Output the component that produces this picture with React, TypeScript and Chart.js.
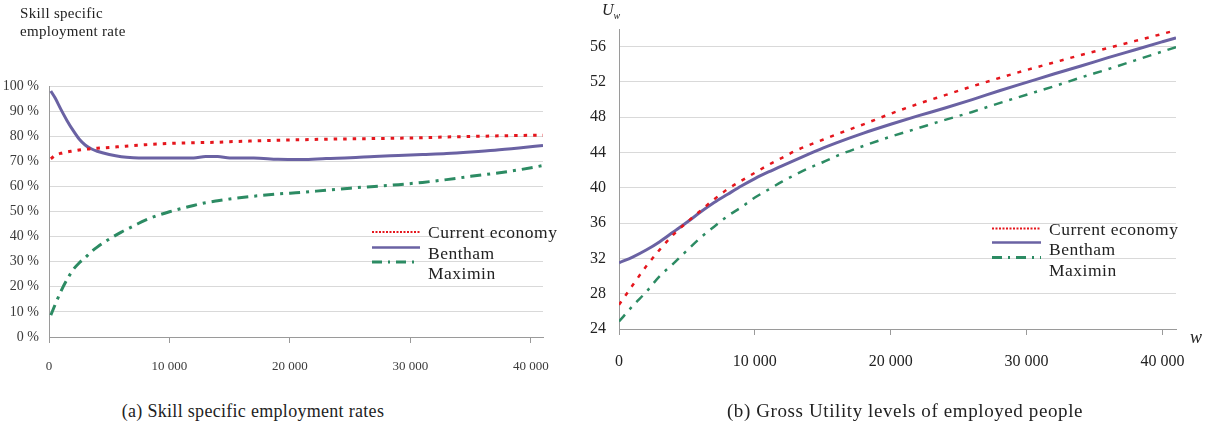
import { useEffect, useRef } from "react";
import { Chart, registerables } from "chart.js";

Chart.register(...registerables);

const seriesNames = ["Current economy", "Bentham", "Maximin"];

// Panel (a): skill specific employment rates (%)
const wageA = [150, 500, 1000, 1500, 2000, 2500, 3000, 3500, 4000, 5000, 6000, 7000, 8000, 10000, 12000, 13000, 14000, 15000, 17000, 19000, 21000, 23000, 25000, 27000, 29000, 31000, 33000, 35000, 37000, 39000, 41000];
const currentA = [71, 72.3, 73.2, 73.7, 74.1, 74.5, 74.8, 75.0, 75.2, 75.5, 75.9, 76.3, 76.6, 77.1, 77.4, 77.5, 77.6, 77.8, 78.1, 78.4, 78.6, 78.8, 78.95, 79.05, 79.2, 79.4, 79.7, 79.9, 80.1, 80.3, 80.4];
const benthamA = [98, 95.3, 90.6, 86.2, 82.3, 78.9, 76.5, 75.0, 74.0, 72.7, 71.8, 71.4, 71.3, 71.3, 71.3, 71.9, 71.9, 71.3, 71.3, 70.8, 70.7, 71.1, 71.4, 71.9, 72.3, 72.7, 73.1, 73.7, 74.4, 75.3, 76.3];
const maximinA = [8.7, 12.8, 18.3, 22.9, 26.8, 29.5, 31.6, 33.9, 35.8, 39.0, 41.8, 44.2, 46.6, 49.9, 52.4, 53.5, 54.3, 55.0, 56.1, 57.0, 57.6, 58.5, 59.3, 60.0, 60.7, 61.6, 62.7, 64.0, 65.2, 66.6, 68.3];

// Panel (b): gross utility levels of employed people
const wageB = [0, 1000, 2000, 3000, 4000, 5000, 6000, 7000, 8000, 9000, 10000, 11000, 12000, 13000, 14000, 15000, 16000, 18000, 20000, 22000, 24000, 26000, 28000, 30000, 32000, 34000, 36000, 38000, 40000, 41000];
const currentB = [26.75, 28.95, 31.1, 33.0, 34.7, 36.1, 37.4, 38.7, 39.85, 40.8, 41.7, 42.6, 43.4, 44.2, 44.85, 45.45, 46.05, 47.2, 48.4, 49.5, 50.5, 51.5, 52.45, 53.35, 54.2, 55.05, 55.85, 56.65, 57.45, 57.85];
const benthamB = [31.5, 32.15, 32.95, 33.9, 35.0, 36.1, 37.25, 38.33, 39.27, 40.2, 41.05, 41.8, 42.5, 43.17, 43.85, 44.5, 45.1, 46.2, 47.2, 48.15, 49.05, 50.0, 51.0, 51.95, 52.9, 53.8, 54.75, 55.65, 56.55, 57.0];
const maximinB = [24.85, 26.6, 28.2, 30.0, 31.4, 32.9, 34.35, 35.6, 36.8, 37.8, 38.9, 39.8, 40.7, 41.5, 42.25, 42.9, 43.6, 44.75, 45.8, 46.75, 47.7, 48.6, 49.6, 50.55, 51.5, 52.5, 53.45, 54.45, 55.45, 55.95];

// Axes
const xMax = 41000;
const xTicks = [0, 10000, 20000, 30000, 40000];
const yTicksA = [0, 10, 20, 30, 40, 50, 60, 70, 80, 90, 100];
const yRangeA = [0, 100];
const yTicksB = [24, 28, 32, 36, 40, 44, 48, 52, 56];
const yRangeB = [24, 58];

const RED = "#e5161d";
const PURPLE = "#6a62a3";
const GREEN = "#2c8b63";
const AXIS = "#9a9a9a";
const GRID = "#d9d9d9";

function fmtW(v: number): string {
  if (v === 0) return "0";
  const th = Math.floor(v / 1000);
  const rest = String(v % 1000).padStart(3, "0");
  return `${th} ${rest}`;
}

type Panel = {
  W: number;
  H: number;
  area: { left: number; top: number; right: number; bottom: number };
  xs: number[];
  series: number[][];
  yRange: number[];
  yTicks: number[];
  yFmt: (v: number) => string;
  yFont: any;
  xFont: any;
  tickColor: string;
  yPad: number;
  xPad: number;
  dashes: number[][];
  widths: number[];
  legend: { x0: number; x1: number; lineYs: number[]; textX: number; textYs: number[]; font: string; dashes: number[][]; widths: number[] };
};

function legendPlugin(lg: Panel["legend"]) {
  return {
    id: "insideLegend",
    afterDraw(chart: any) {
      const ctx = chart.ctx as CanvasRenderingContext2D;
      ctx.save();
      chart.data.datasets.forEach((ds: any, i: number) => {
        ctx.beginPath();
        ctx.setLineDash(lg.dashes[i]);
        ctx.lineWidth = lg.widths[i];
        ctx.strokeStyle = ds.borderColor;
        ctx.moveTo(lg.x0, lg.lineYs[i]);
        ctx.lineTo(lg.x1, lg.lineYs[i]);
        ctx.stroke();
        ctx.setLineDash([]);
        ctx.fillStyle = "#222";
        ctx.font = lg.font;
        (ctx as any).letterSpacing = "0.5px";
        ctx.textBaseline = "middle";
        ctx.textAlign = "left";
        ctx.fillText(ds.label, lg.textX, lg.textYs[i]);
      });
      ctx.restore();
    },
  };
}

function makeChart(canvas: HTMLCanvasElement, p: Panel) {
  const colors = [RED, PURPLE, GREEN];
  const [yMin, yMax] = p.yRange;
  return new Chart(canvas, {
    type: "line",
    data: {
      datasets: p.series.map((ys, i) => ({
        label: seriesNames[i],
        data: p.xs.map((x, j) => ({ x, y: ys[j] })),
        borderColor: colors[i],
        borderWidth: p.widths[i],
        borderDash: p.dashes[i],
        pointRadius: 0,
        fill: false,
        cubicInterpolationMode: "monotone" as const,
      })),
    },
    options: {
      animation: false,
      responsive: false,
      maintainAspectRatio: false,
      layout: { padding: { left: 0, top: p.area.top, right: p.W - p.area.right, bottom: 0 } },
      plugins: { legend: { display: false }, tooltip: { enabled: false } },
      scales: {
        x: {
          type: "linear",
          min: 0,
          max: xMax,
          afterBuildTicks: (s: any) => {
            s.ticks = xTicks.map((value) => ({ value }));
          },
          ticks: {
            autoSkip: false,
            maxRotation: 0,
            callback: (v: any) => fmtW(Number(v)),
            font: p.xFont,
            color: p.tickColor,
            padding: p.xPad,
          },
          grid: { drawOnChartArea: false, drawTicks: true, tickLength: 6, color: AXIS },
          border: { color: AXIS, width: 1 },
          afterFit: (s: any) => {
            s.height = p.H - p.area.bottom;
          },
        },
        y: {
          type: "linear",
          min: yMin,
          max: yMax,
          afterBuildTicks: (s: any) => {
            s.ticks = p.yTicks.map((value) => ({ value }));
          },
          ticks: {
            autoSkip: false,
            callback: (v: any) => p.yFmt(Number(v)),
            font: p.yFont,
            color: p.tickColor,
            padding: p.yPad,
          },
          grid: {
            drawTicks: false,
            color: (c: any) => (c.tick && c.tick.value === yMin ? AXIS : GRID),
          },
          border: { color: AXIS, width: 1 },
          afterFit: (s: any) => {
            s.width = p.area.left;
          },
        },
      },
    },
    plugins: [legendPlugin(p.legend)],
  } as any);
}

const panelA: Panel = {
  W: 600,
  H: 400,
  area: { left: 49, top: 86, right: 543, bottom: 337 },
  xs: wageA,
  series: [currentA, benthamA, maximinA],
  yRange: yRangeA,
  yTicks: yTicksA,
  yFmt: (v) => `${v} %`,
  yFont: { family: "'Liberation Serif', serif", size: 14 },
  xFont: { family: "'Liberation Serif', serif", size: 13 },
  tickColor: "#3a3a3a",
  yPad: 10,
  xPad: 16,
  dashes: [[3.5, 6], [], [11, 6, 3, 6]],
  widths: [3, 3, 3],
  legend: {
    x0: 372,
    x1: 420,
    lineYs: [232, 247.5, 262],
    textX: 428,
    textYs: [233, 254, 274],
    font: "17.5px 'Liberation Serif', serif",
    dashes: [[2, 1.5], [], [10, 6, 2, 6]],
    widths: [2, 2.5, 3],
  },
};

const panelB: Panel = {
  W: 633,
  H: 400,
  area: { left: 39, top: 29, right: 596, bottom: 329 },
  xs: wageB,
  series: [currentB, benthamB, maximinB],
  yRange: yRangeB,
  yTicks: yTicksB,
  yFmt: (v) => `${v}`,
  yFont: { family: "'Liberation Serif', serif", size: 16 },
  xFont: { family: "'Liberation Serif', serif", size: 16 },
  tickColor: "#222",
  yPad: 13,
  xPad: 17,
  dashes: [[4, 7], [], [9, 7, 3, 7]],
  widths: [2.5, 3, 2.5],
  legend: {
    x0: 412,
    x1: 461,
    lineYs: [228.5, 242.5, 257.5],
    textX: 469,
    textYs: [230, 250, 271],
    font: "17.5px 'Liberation Serif', serif",
    dashes: [[2, 1.5], [], [10, 6, 2, 6]],
    widths: [2, 2.5, 3],
  },
};

const serif = "'Liberation Serif', 'Times New Roman', serif";

export default function App() {
  const refA = useRef<HTMLCanvasElement | null>(null);
  const refB = useRef<HTMLCanvasElement | null>(null);

  useEffect(() => {
    const a = makeChart(refA.current!, panelA);
    const b = makeChart(refB.current!, panelB);
    return () => {
      a.destroy();
      b.destroy();
    };
  }, []);

  return (
    <div
      style={{
        position: "absolute",
        left: 0,
        top: 0,
        width: 1213,
        height: 428,
        background: "#fff",
        overflow: "hidden",
        fontFamily: serif,
        color: "#222",
      }}
    >
      <canvas ref={refA} width={panelA.W} height={panelA.H} style={{ position: "absolute", left: 0, top: 0, width: panelA.W, height: panelA.H }} />
      <canvas ref={refB} width={panelB.W} height={panelB.H} style={{ position: "absolute", left: 580, top: 0, width: panelB.W, height: panelB.H }} />
      <div style={{ position: "absolute", left: 20, top: 5, fontSize: 15, lineHeight: "17.5px", letterSpacing: "0.3px" }}>
        Skill specific
        <br />
        employment rate
      </div>
      <div style={{ position: "absolute", left: 602, top: 0, fontSize: 16, fontStyle: "italic", lineHeight: "20px" }}>
        U<sub style={{ fontSize: 10, verticalAlign: "-4px" }}>w</sub>
      </div>
      <div style={{ position: "absolute", left: 1190, top: 327, fontSize: 18, fontStyle: "italic", lineHeight: "20px" }}>w</div>
      <div style={{ position: "absolute", left: 0, top: 400, width: 506, textAlign: "center", fontSize: 18, lineHeight: "22px", letterSpacing: "0.3px" }}>
        (a) Skill specific employment rates
      </div>
      <div style={{ position: "absolute", left: 650, top: 399, width: 510, textAlign: "center", fontSize: 19, lineHeight: "23px", letterSpacing: "0.6px" }}>
        (b) Gross Utility levels of employed people
      </div>
    </div>
  );
}
